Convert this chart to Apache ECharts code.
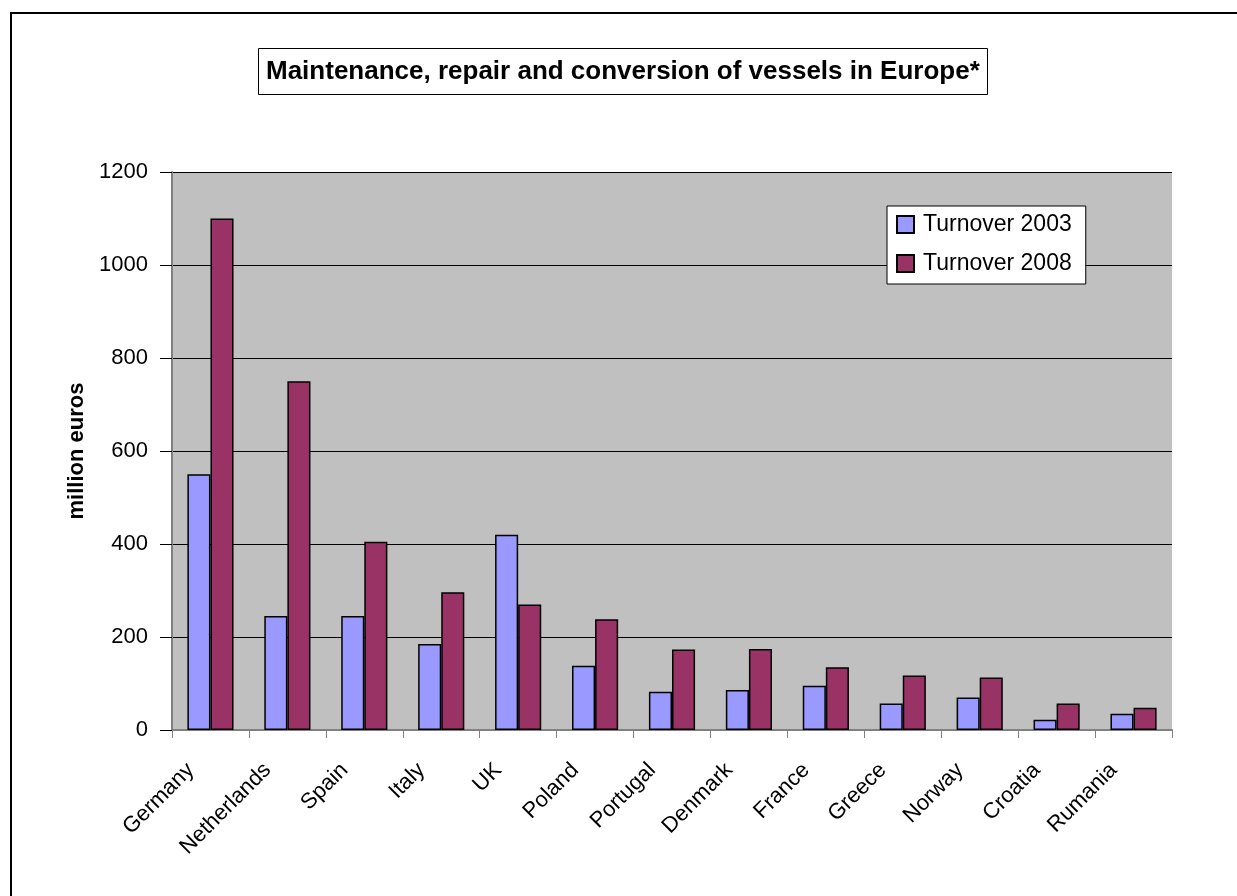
<!DOCTYPE html>
<html>
<head>
<meta charset="utf-8">
<script src="https://cdn.jsdelivr.net/npm/echarts@6/dist/echarts.min.js"></script>
<style>
  html, body { margin: 0; padding: 0; background: #fff; }
  #chart { width: 1237px; height: 896px; }
</style>
</head>
<body>
<div id="chart"></div>
<script>
// values, million euros
const countries = ['Germany', 'Netherlands', 'Spain', 'Italy', 'UK', 'Poland', 'Portugal',
                   'Denmark', 'France', 'Greece', 'Norway', 'Croatia', 'Rumania'];
const turnover2003 = [550, 245, 245, 185, 420, 138, 82, 86, 95, 57, 70, 22, 35];
const turnover2008 = [1100, 750, 405, 296, 270, 238, 173, 174, 135, 117, 113, 57, 48];
const seriesNames = ['Turnover 2003', 'Turnover 2008'];

const chart = echarts.init(document.getElementById('chart'));

const font = 'Arial, "Liberation Sans", sans-serif';

const option = {
  animation: false,
  backgroundColor: '#fff',
  textStyle: { fontFamily: font, color: '#000' },
  graphic: [{
    type: 'rect',
    shape: { x: 11, y: 13, width: 1400, height: 1000 },
    style: { fill: 'none', stroke: '#000', lineWidth: 2 }
  }],
  title: {
    text: 'Maintenance, repair and conversion of vessels in Europe*',
    left: 258,
    top: 48,
    padding: [10, 8, 10, 8],
    borderColor: '#000',
    borderWidth: 1,
    backgroundColor: '#fff',
    textStyle: { fontFamily: font, fontSize: 26, fontWeight: 'bold', color: '#000', lineHeight: 27 }
  },
  legend: {
    data: seriesNames,
    orient: 'vertical',
    left: 887,
    top: 206,
    padding: [7, 14, 9, 9],
    itemGap: 16,
    itemWidth: 17,
    itemHeight: 17,
    icon: 'rect',
    backgroundColor: '#fff',
    borderColor: '#000',
    borderWidth: 1,
    textStyle: { fontFamily: font, fontSize: 23, color: '#000', padding: [0, 0, 0, 4] }
  },
  grid: {
    left: 172,
    right: 65,
    top: 172,
    bottom: 166,
    show: true,
    backgroundColor: '#C0C0C0',
    borderWidth: 0
  },
  xAxis: {
    type: 'category',
    data: countries,
    boundaryGap: true,
    axisLine: { show: true, lineStyle: { color: '#808080', width: 2 } },
    axisTick: { show: true, length: 8, lineStyle: { color: '#808080', width: 1 } },
    axisLabel: {
      rotate: 45, fontSize: 22, color: '#000', margin: 17, interval: 0, fontFamily: font,
      padding: [0, 28, 0, 0]
    },
    splitLine: { show: false }
  },
  yAxis: {
    type: 'value',
    min: 0,
    max: 1200,
    interval: 200,
    name: 'million euros',
    nameLocation: 'middle',
    nameGap: 84,
    nameTextStyle: { fontFamily: font, fontSize: 22, fontWeight: 'bold', color: '#000' },
    axisLine: { show: true, lineStyle: { color: '#808080', width: 2 } },
    axisTick: { show: true, length: 12, lineStyle: { color: '#000', width: 1 } },
    axisLabel: { fontSize: 22, color: '#000', margin: 24, fontFamily: font, formatter: v => String(v) },
    splitLine: { show: true, lineStyle: { color: '#000', width: 1 } }
  },
  series: [
    {
      name: seriesNames[0],
      type: 'bar',
      data: turnover2003,
      barGap: '0%',
      barCategoryGap: '40%',
      itemStyle: { color: '#9999FF', borderColor: '#000', borderWidth: 1.5 }
    },
    {
      name: seriesNames[1],
      type: 'bar',
      data: turnover2008,
      itemStyle: { color: '#993366', borderColor: '#000', borderWidth: 1.5 }
    }
  ]
};

chart.setOption(option);
</script>
</body>
</html>
